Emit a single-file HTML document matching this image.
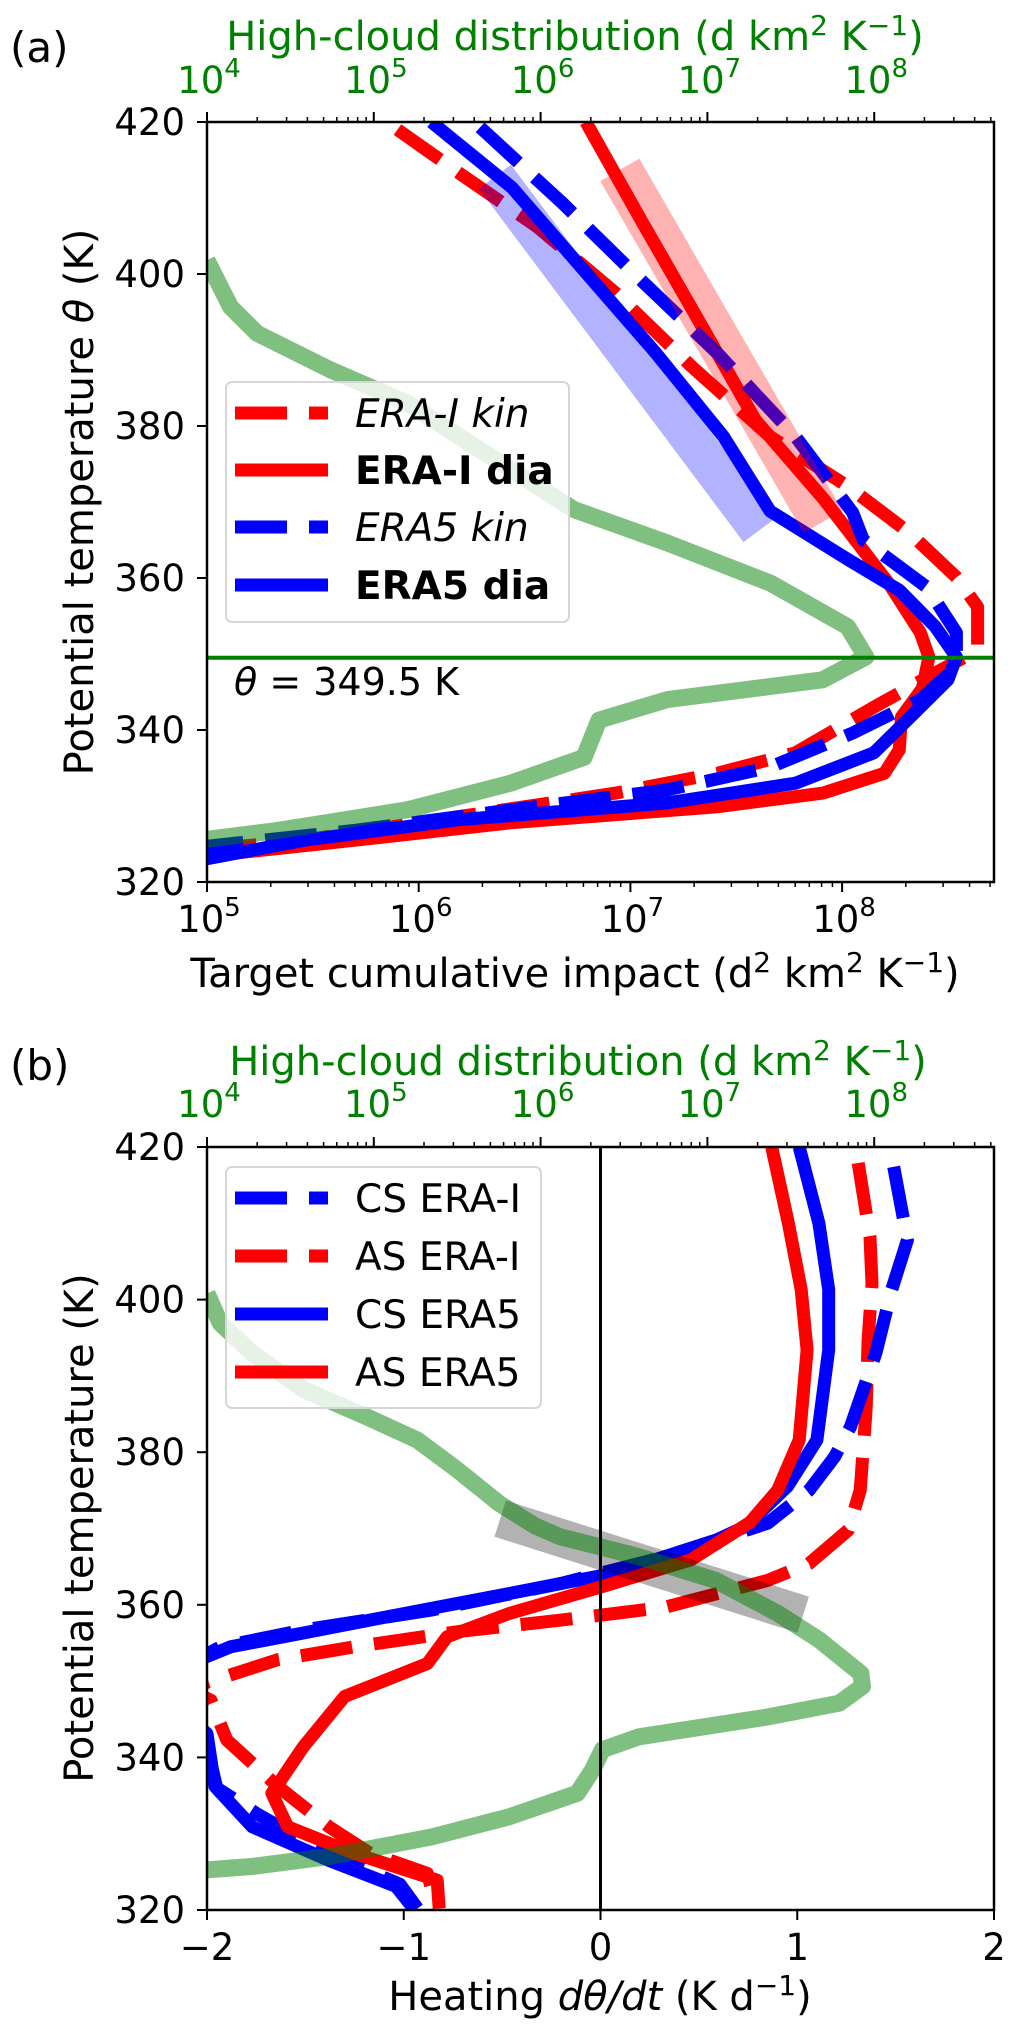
<!DOCTYPE html>
<html><head><meta charset="utf-8">
<style>
html,body{margin:0;padding:0;background:#fff;}
svg{display:block;font-family:"DejaVu Sans","Liberation Sans",sans-serif;}
</style></head>
<body>
<svg id="fig" width="1017" height="2037" viewBox="0 0 1017 2037" xmlns="http://www.w3.org/2000/svg">
<defs>
<clipPath id="clipA"><rect x="207" y="122" width="787" height="760"/></clipPath>
<clipPath id="clipB"><rect x="207" y="1147" width="787" height="763"/></clipPath>
</defs>
<g id="panelA"></g>
<g id="panelB"></g>
</svg>
<script>
// ---------- Panel (a) data: [log10 value, theta] ----------
const aEraIKin = [[5.90,419],[6.19,413.3],[6.56,406.2],[6.93,397.5],[7.29,387.8],[7.66,378.6],[8.03,372],[8.22,368],[8.32,365.9],[8.54,360.1],[8.64,356.2],[8.64,350.5],[8.44,347.5],[8.15,343],[7.78,337],[7.41,334.3],[6.93,331.7],[6.19,328.6],[5.46,325.5],[4.97,324.2]];
const aEraIDia = [[6.79,420],[7.05,407.1],[7.32,394],[7.59,380.8],[7.91,370.5],[8.22,359.3],[8.37,352.8],[8.41,349.6],[8.38,345.5],[8.28,341.7],[8.27,337.4],[8.20,334.3],[7.91,331.7],[7.41,329.9],[6.44,327.8],[5.70,325.5],[4.97,323.3]];
const aEra5Kin = [[6.29,419.3],[6.68,409.3],[7.05,399.2],[7.41,389.6],[7.78,378.6],[8.05,368.6],[8.10,365],[8.40,358.8],[8.54,352.8],[8.54,348.3],[8.37,344],[8.05,339.6],[7.66,335.1],[7.17,332.1],[6.44,329.5],[5.70,326.8],[4.97,324.6]];
const aEra5Dia = [[6.06,420],[6.44,411.4],[6.78,400.5],[7.12,389.6],[7.44,378.6],[7.66,368.8],[8.03,362.4],[8.27,358.4],[8.44,353.6],[8.54,349.6],[8.50,346.6],[8.34,342.2],[8.15,337],[7.78,333],[7.17,330.4],[6.19,328.2],[5.46,325.5],[4.97,322.9]];
const aCloud = [[4.0,401.8],[4.14,395.7],[4.30,392.2],[4.74,387.4],[5.20,383],[5.67,376.4],[6.20,369],[6.76,364.6],[7.38,359.3],[7.84,353.6],[7.95,349.6],[7.69,346.6],[6.76,344],[6.35,341.3],[6.26,336.4],[5.82,333],[5.20,329.5],[4.43,326.8],[3.96,325.5]];
const aBandEra5 = [[6.36,412.8],[7.61,366.3]];
const aBandEraI = [[6.95,413.7],[7.91,367.4]];
const aThetaLine = 349.5;
const yTicks = [320,340,360,380,400,420];
const aBottomTicks = [5,6,7,8];
const cloudTicks = [4,5,6,7,8];

// ---------- Panel (b) data: [heating K/d, theta] ----------
const bCsEraI = [[1.49,417.4],[1.56,407.8],[1.48,401.3],[1.40,393],[1.27,383.3],[1.19,379.4],[1.06,375],[0.85,370.7],[0.33,366.3],[-0.20,362.8],[-0.86,359.3],[-1.51,356.7],[-1.93,354.5],[-2.04,353],[-2.2,348],[-2.02,343.5],[-1.95,336],[-1.74,332.5],[-1.36,327],[-1.02,323.4],[-0.93,320.2]];
const bAsEraI = [[1.31,417.9],[1.37,408.2],[1.38,402.1],[1.36,394.7],[1.35,385.5],[1.32,375],[1.26,369.8],[1.06,365.4],[0.85,363.2],[0.33,359.7],[-0.20,358],[-0.72,356.5],[-1.25,354.5],[-1.64,352.8],[-1.93,350.4],[-2.1,349],[-1.98,347.5],[-1.90,342.3],[-1.64,336.2],[-1.38,330.9],[-1.17,327.4],[-0.88,324.8],[-0.84,321]];
const bCsEra5 = [[1.01,420],[1.11,410],[1.16,401.3],[1.16,393.4],[1.10,381.6],[0.95,375.5],[0.74,370.3],[0.59,368.5],[0.06,364.1],[-0.46,361.5],[-0.99,358.9],[-1.51,356.3],[-1.88,354.5],[-2.04,352.8],[-2.2,348],[-2.0,343.1],[-1.96,336.2],[-1.77,330.9],[-1.38,326.5],[-1.04,323.1],[-0.95,320.2]];
const bAsEra5 = [[0.87,420],[0.955,410],[1.02,401.3],[1.05,393.4],[1.01,381.6],[0.90,375],[0.76,370.8],[0.46,365.9],[0.01,362.4],[-0.46,358.9],[-0.78,355.8],[-0.88,352.3],[-1.30,348],[-1.51,341.4],[-1.67,335.3],[-1.59,330.9],[-1.25,327.4],[-0.83,323.9],[-0.82,320.2]];
const bCloud = [[4.0,400.8],[4.08,396.9],[4.27,393],[4.58,388.2],[4.95,384.7],[5.26,381.6],[5.50,377.7],[5.75,373.3],[5.97,370.3],[6.12,368.9],[6.59,366.3],[7.05,363.2],[7.42,358.9],[7.67,355.4],[7.92,351],[7.93,349.3],[7.79,347.1],[7.36,345.3],[6.59,342.7],[6.37,341],[6.31,338.3],[6.22,335.3],[5.81,332.2],[5.35,329.6],[4.73,327],[4.27,325.7],[3.96,325.2]];
const bBand = [[-0.51,371.3],[1.03,358.7]];
const bTicks = [-2,-1,0,1,2];
const bTickLabels = ["\u22122","\u22121","0","1","2"];

const NS = "http://www.w3.org/2000/svg";
function mk(tag, attrs, parent){const e=document.createElementNS(NS,tag);for(const k in attrs)e.setAttribute(k,attrs[k]);parent.appendChild(e);return e;}

// axes
const L=207,R=994;
const aTop=122,aBot=882,bTop=1147,bBot=1910;
const axLog = v => L + (v-5)*211.7;          // bottom log axis panel a
const axCloud = v => L + (v-4)*166.8;        // top green log axis
const yA = t => aTop + (420-t)*(aBot-aTop)/100;
const yB = t => bTop + (420-t)*(bBot-bTop)/100;
const xB = v => L + (v+2)*(R-L)/4;

function pathD(arr, fx, fy){return arr.map((p,i)=>(i?'L':'M')+fx(p[0]).toFixed(1)+' '+fy(p[1]).toFixed(1)).join(' ');}

const pA=document.getElementById('panelA');
const pB=document.getElementById('panelB');

function series(parent, arr, fx, fy, color, dashed, name, w, op){
  const e=mk('path',{d:pathD(arr,fx,fy),fill:'none',stroke:color,'stroke-width':w||13,'stroke-linejoin':'round','stroke-opacity':op||1},parent);
  if(dashed) e.setAttribute('stroke-dasharray','52 22');
  
  
  return e;
}

// ===== Panel A =====
const gA=mk('g',{'clip-path':'url(#clipA)'},pA);


series(gA,aEraIKin,axLog,yA,'#ff0000',true,'era-i-kin-line');
series(gA,aEraIDia,axLog,yA,'#ff0000',false,'era-i-dia-line');
series(gA,aEra5Kin,axLog,yA,'#0000ff',true,'era5-kin-line');
series(gA,aEra5Dia,axLog,yA,'#0000ff',false,'era5-dia-line');
series(gA,aBandEra5,axLog,yA,'#0000ff',false,'era5-fit-band',40,0.3).setAttribute('stroke-linecap','butt');
series(gA,aBandEraI,axLog,yA,'#ff0000',false,'era-i-fit-band',45,0.3).setAttribute('stroke-linecap','butt');
series(gA,aCloud,axCloud,yA,'#008000',false,'high-cloud-line-a',17,0.5);
const hl=mk('line',{x1:L,x2:R,y1:yA(aThetaLine),y2:yA(aThetaLine),stroke:'#008000','stroke-width':4},gA);



function frame(parent, top, bot, name){
  const f=mk('rect',{x:L,y:top,width:R-L,height:bot-top,fill:'none',stroke:'#000','stroke-width':2.5},parent);
  
  
}
frame(pA,aTop,aBot,'axes-frame-a');

function yAxis(parent, fy, name){
  const g=mk('g',{},parent);
  
  
  yTicks.forEach(t=>{
    mk('line',{x1:L-10,x2:L,y1:fy(t),y2:fy(t),stroke:'#000','stroke-width':2},g);
    const tx=mk('text',{x:185,y:fy(t)+13,'text-anchor':'end','font-size':37},g);
    tx.textContent=t;
    
    
  });
}
yAxis(pA,yA,'y-axis-a');

function logAxis(parent, fx, ticks, yAx, dir, color, ybase, name){
  const g=mk('g',{},parent);
  
  
  for(let d=Math.floor(ticks[0])-1; d<=ticks[ticks.length-1]+1; d++){
    for(let m=1;m<10;m++){
      const v=d+Math.log10(m); const x=fx(v);
      if(x<L-0.5||x>R+0.5) continue;
      const len=m===1?10:5;
      mk('line',{x1:x,x2:x,y1:yAx,y2:yAx+dir*len,stroke:'#000','stroke-width':m===1?2:1.5},g);
    }
  }
  ticks.forEach(t=>{
    const tx=mk('text',{x:fx(t)+2,y:ybase,'text-anchor':'middle','font-size':37,fill:color},g);
    tx.innerHTML='10<tspan dy="-16" font-size="26">'+t+'</tspan>';
    
    
  });
}
logAxis(pA,axLog,aBottomTicks,aBot,1,'#000',932,'x-axis-a');
logAxis(pA,axCloud,cloudTicks,aTop,-1,'#008000',93,'top-axis-a');

function txt(parent, x, y, html, attrs, name){
  const t=mk('text',Object.assign({x:x,y:y},attrs),parent);
  t.innerHTML=html;
  
  
  return t;
}
txt(pA,10,62,'(a)',{'font-size':42},'panel-label-a');
txt(pA,575,50,'High-cloud distribution (d km<tspan dy="-15" font-size="28">2</tspan><tspan dy="15"> K</tspan><tspan dy="-15" font-size="28">\u22121</tspan><tspan dy="15">)</tspan>',{'font-size':40,fill:'#008000','text-anchor':'middle'},'top-axis-title-a');
txt(pA,575,987,'Target cumulative impact (d<tspan dy="-15" font-size="28">2</tspan><tspan dy="15"> km</tspan><tspan dy="-15" font-size="28">2</tspan><tspan dy="15"> K</tspan><tspan dy="-15" font-size="28">\u22121</tspan><tspan dy="15">)</tspan>',{'font-size':40,'text-anchor':'middle'},'x-axis-title-a');
txt(pA,0,0,'Potential temperature <tspan font-style="italic">θ</tspan> (K)',{'font-size':40,'text-anchor':'middle',transform:'translate(93,502) rotate(-90)'},'y-axis-title-a');
txt(pA,234,695,'<tspan font-style="italic">θ</tspan> = 349.5 K',{'font-size':38},'theta-annotation');

function legend(parent, x, y, w, h, rows, name){
  const g=mk('g',{},parent);
  
  
  mk('rect',{x:x,y:y,width:w,height:h,rx:6,fill:'#fff','fill-opacity':0.8,stroke:'#d6d6d6','stroke-width':2},g);
  rows.forEach(r=>{
    const ln=mk('line',{x1:235,x2:328,y1:r.y,y2:r.y,stroke:r.c,'stroke-width':13},g);
    if(r.d) ln.setAttribute('stroke-dasharray','52 22');
    const t=mk('text',{x:355,y:r.y+14,'font-size':39},g);
    t.innerHTML=r.t;
    if(r.s) t.setAttribute('font-style','italic');
    if(r.b) t.setAttribute('font-weight','bold');
    
    
  });
}
legend(pA,226,382,343,240,[
  {y:413,c:'#ff0000',d:true,t:'ERA-I kin',s:true},
  {y:470,c:'#ff0000',d:false,t:'ERA-I dia',b:true},
  {y:527,c:'#0000ff',d:true,t:'ERA5 kin',s:true},
  {y:585,c:'#0000ff',d:false,t:'ERA5 dia',b:true}],'legend-a');

// ===== Panel B =====
const gB=mk('g',{'clip-path':'url(#clipB)'},pB);


series(gB,bAsEraI,xB,yB,'#ff0000',true,'as-era-i-line');
series(gB,bCsEraI,xB,yB,'#0000ff',true,'cs-era-i-line');
series(gB,bCsEra5,xB,yB,'#0000ff',false,'cs-era5-line');
series(gB,bAsEra5,xB,yB,'#ff0000',false,'as-era5-line');
series(gB,bBand,xB,yB,'#000000',false,'fit-band-b',38,0.3).setAttribute('stroke-linecap','butt');
series(gB,bCloud,axCloud,yB,'#008000',false,'high-cloud-line-b',17,0.5);
const vl=mk('line',{x1:xB(0),x2:xB(0),y1:bTop,y2:bBot,stroke:'#000','stroke-width':3},gB);


frame(pB,bTop,bBot,'axes-frame-b');
yAxis(pB,yB,'y-axis-b');
logAxis(pB,axCloud,cloudTicks,bTop,-1,'#008000',1117,'top-axis-b');
const gx=mk('g',{},pB);


bTicks.forEach((t,i)=>{
  mk('line',{x1:xB(t),x2:xB(t),y1:bBot,y2:bBot+10,stroke:'#000','stroke-width':2},gx);
  const tx=mk('text',{x:xB(t),y:1960,'text-anchor':'middle','font-size':37},gx);
  tx.textContent=bTickLabels[i];
  
  
});
txt(pB,10,1080,'(b)',{'font-size':42},'panel-label-b');
txt(pB,578,1075,'High-cloud distribution (d km<tspan dy="-15" font-size="28">2</tspan><tspan dy="15"> K</tspan><tspan dy="-15" font-size="28">\u22121</tspan><tspan dy="15">)</tspan>',{'font-size':40,fill:'#008000','text-anchor':'middle'},'top-axis-title-b');
txt(pB,600,2010,'Heating <tspan font-style="italic">dθ/dt</tspan> (K d<tspan dy="-15" font-size="28">\u22121</tspan><tspan dy="15">)</tspan>',{'font-size':40,'text-anchor':'middle'},'x-axis-title-b');
txt(pB,0,0,'Potential temperature (K)',{'font-size':40,'text-anchor':'middle',transform:'translate(93,1528) rotate(-90)'},'y-axis-title-b');
legend(pB,226,1167,315,241,[
  {y:1198,c:'#0000ff',d:true,t:'CS ERA-I'},
  {y:1256,c:'#ff0000',d:true,t:'AS ERA-I'},
  {y:1314,c:'#0000ff',d:false,t:'CS ERA5'},
  {y:1372,c:'#ff0000',d:false,t:'AS ERA5'}],'legend-b');
</script>
</body></html>
